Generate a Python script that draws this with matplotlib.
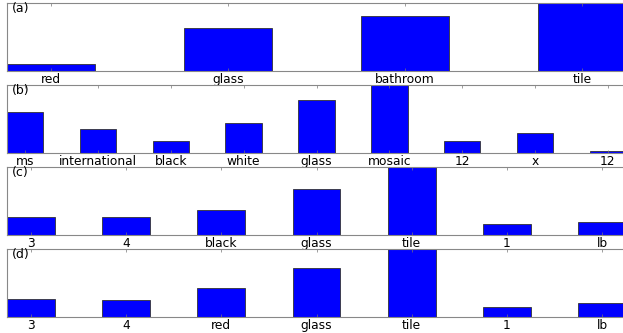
import matplotlib
matplotlib.use("Agg")
import matplotlib.pyplot as plt
import numpy as np

# panel data (relative counts)
labels_a = ["red", "glass", "bathroom", "tile"]
values_a = [0.11, 0.63, 0.81, 1.0]

labels_b = ["ms", "international", "black", "white", "glass", "mosaic", "12", "x", "12"]
values_b = [0.61, 0.36, 0.18, 0.44, 0.78, 1.0, 0.18, 0.30, 0.035]

labels_c = ["3", "4", "black", "glass", "tile", "1", "lb"]
values_c = [0.27, 0.26, 0.37, 0.67, 1.0, 0.16, 0.19]

labels_d = ["3", "4", "red", "glass", "tile", "1", "lb"]
values_d = [0.27, 0.25, 0.42, 0.72, 1.0, 0.15, 0.21]

panels = [("(a)", labels_a, values_a),
          ("(b)", labels_b, values_b),
          ("(c)", labels_c, values_c),
          ("(d)", labels_d, values_d)]

W, H = 623, 333
fig = plt.figure(figsize=(W / 100, H / 100), dpi=100)

left, right = 7, 626
bottoms = [262, 180, 98, 16]
height = 68

for (tag, labels, values), b in zip(panels, bottoms):
    ax = fig.add_axes([left / W, b / H, (right - left) / W, height / H])
    x = np.arange(len(labels))
    ax.bar(x, values, width=0.5, color="#0000ff", edgecolor="#333333", linewidth=0.6)
    ax.set_xlim(-0.25, len(labels) - 0.75)
    ax.set_ylim(0, max(values))
    ax.set_xticks(x)
    ax.set_xticklabels(labels, fontsize=8.8)
    ax.set_yticks([])
    ax.tick_params(axis="x", direction="in", top=True, length=2.5, width=0.5,
                   color="#777777", pad=1.2)
    for s in ax.spines.values():
        s.set_color("#888888")
        s.set_linewidth(0.8)
    ax.text(0.008, 1.01, tag, transform=ax.transAxes, fontsize=9,
            ha="left", va="top")

fig.savefig("out.png", dpi=100)
